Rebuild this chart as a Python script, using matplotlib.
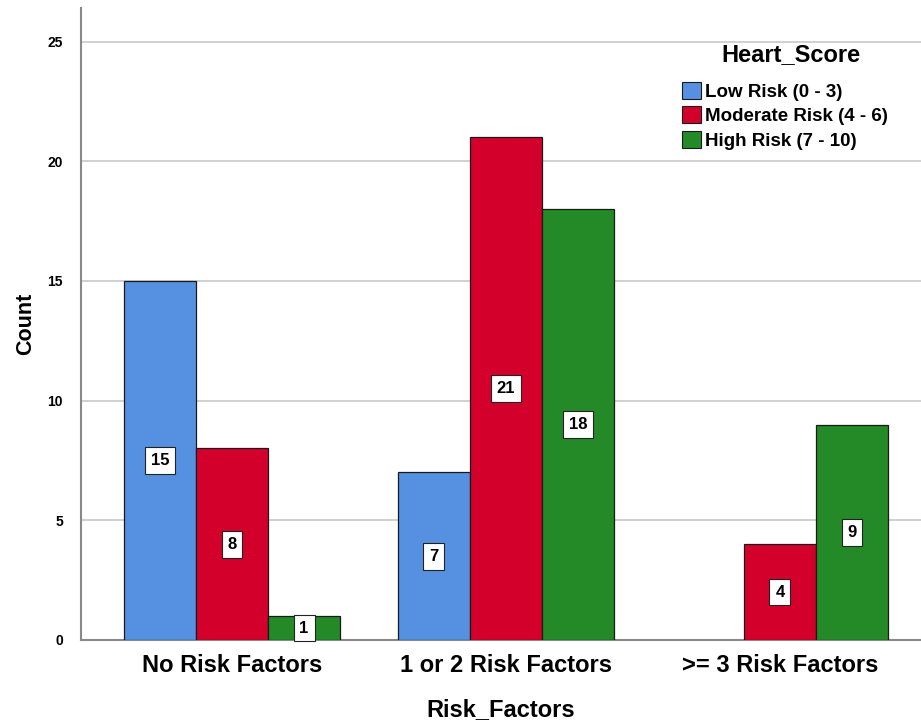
import matplotlib
matplotlib.use("Agg")
import matplotlib.pyplot as plt
import numpy as np
from matplotlib.patches import Patch

plt.rcParams['font.family'] = ['Liberation Sans', 'DejaVu Sans']

categories = ["No Risk Factors", "1 or 2 Risk Factors", ">= 3 Risk Factors"]
series_names = ["Low Risk (0 - 3)", "Moderate Risk (4 - 6)", "High Risk (7 - 10)"]
low_risk = [15, 7, 0]
moderate_risk = [8, 21, 4]
high_risk = [1, 18, 9]
colors = ["#5591E0", "#D4002C", "#238A27"]
yticks = [0, 5, 10, 15, 20, 25]

fig = plt.figure(figsize=(9.21, 7.27), dpi=100)
ax = fig.add_axes([0.088, 0.1197, 0.912, 0.8693])

x = np.arange(len(categories))
w = 0.263
all_series = [low_risk, moderate_risk, high_risk]
for i, (vals, c) in enumerate(zip(all_series, colors)):
    pos = x + (i - 1) * w
    for xp, v in zip(pos, vals):
        if v <= 0:
            continue
        ax.bar(xp, v, width=w, color=c, edgecolor="#1a1a1a", linewidth=0.9, zorder=3)
        ax.text(xp, v / 2, str(v), ha="center", va="center", fontsize=12,
                fontweight="bold", zorder=4,
                bbox=dict(boxstyle="square,pad=0.35", facecolor="white",
                          edgecolor="#222222", linewidth=0.8))

ax.set_xlim(-0.551, 2.515)
ax.set_ylim(0, 26.4)
ax.set_yticks(yticks)
ax.set_yticklabels([str(t) for t in yticks], fontsize=10, fontweight="bold")
ax.set_xticks(x)
ax.set_xticklabels(categories, fontsize=17, fontweight="bold")
ax.tick_params(axis="both", length=0)
ax.tick_params(axis="y", pad=13)
ax.tick_params(axis="x", pad=10)
ax.yaxis.grid(True, color="#c8c8c8", linewidth=1.2, zorder=0)
ax.set_axisbelow(True)
for s in ["top", "right"]:
    ax.spines[s].set_visible(False)
for s in ["left", "bottom"]:
    ax.spines[s].set_color("#888888")
    ax.spines[s].set_linewidth(1.5)

ax.set_xlabel("Risk_Factors", fontsize=17, fontweight="bold", labelpad=15)
ax.set_ylabel("Count", fontsize=15.5, fontweight="bold", labelpad=8)

handles = [Patch(facecolor=c, edgecolor="#1a1a1a", linewidth=0.8) for c in colors]
leg = fig.legend(handles, series_names, loc="upper left",
                 bbox_to_anchor=(682 / 921, 1 - 82 / 727), frameon=False,
                 prop={"weight": "bold", "size": 13.5},
                 handlelength=1.0, handleheight=1.0, handletextpad=0.25,
                 labelspacing=0.3, borderaxespad=0.0, borderpad=0.0)
fig.text(791 / 921, 1 - 55 / 727, "Heart_Score", ha="center", va="center",
         fontsize=17, fontweight="bold")

fig.savefig("out.png", dpi=100)
